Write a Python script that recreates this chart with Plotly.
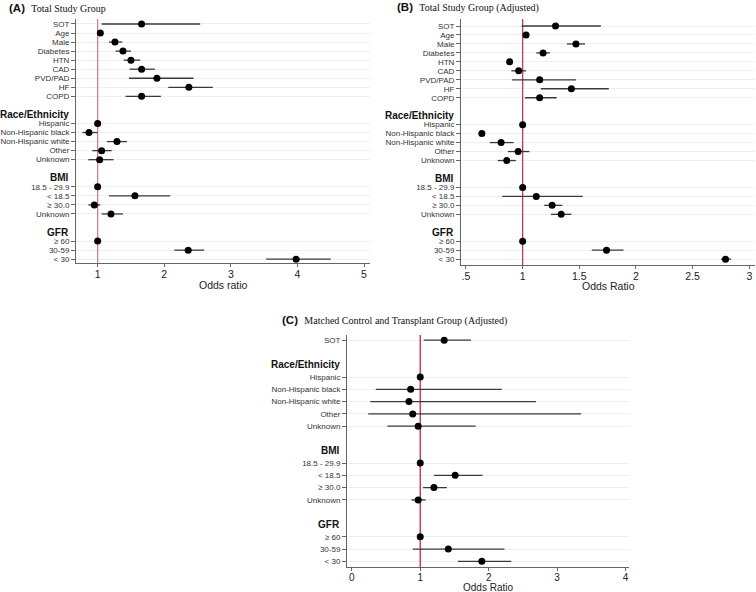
import plotly.graph_objects as go

# ---- data ----
labels_a = ["SOT", "Age", "Male", "Diabetes", "HTN", "CAD", "PVD/PAD", "HF", "COPD"]
race_labels = ["Hispanic", "Non-Hispanic black", "Non-Hispanic white", "Other", "Unknown"]
bmi_labels = ["18.5 - 29.9", "< 18.5", "≥ 30.0", "Unknown"]
gfr_labels = ["≥ 60", "30-59", "< 30"]

# panel A: Total Study Group
or_a = [1.66, 1.04, 1.26, 1.38, 1.50, 1.66, 1.89, 2.37, 1.66,
        1.00, 0.87, 1.29, 1.06, 1.03,
        1.00, 1.56, 0.95, 1.20,
        1.00, 2.36, 3.98]
lo_a = [1.06, 1.03, 1.17, 1.27, 1.39, 1.48, 1.47, 2.06, 1.42,
        1.00, 0.77, 1.14, 0.92, 0.86,
        1.00, 1.17, 0.86, 1.06,
        1.00, 2.15, 3.53]
hi_a = [2.54, 1.05, 1.37, 1.50, 1.64, 1.86, 2.44, 2.73, 1.95,
        1.00, 1.00, 1.44, 1.21, 1.24,
        1.00, 2.09, 1.04, 1.38,
        1.00, 2.60, 4.50]

# panel B: Total Study Group (Adjusted)
or_b = [1.29, 1.03, 1.47, 1.18, 0.885, 0.965, 1.15, 1.43, 1.15,
        1.00, 0.64, 0.81, 0.96, 0.86,
        1.00, 1.12, 1.26, 1.34,
        1.00, 1.74, 2.79]
lo_b = [0.99, 1.02, 1.39, 1.12, 0.875, 0.90, 0.905, 1.16, 1.02,
        1.00, 0.635, 0.71, 0.87, 0.78,
        1.00, 0.82, 1.19, 1.25,
        1.00, 1.61, 2.75]
hi_b = [1.69, 1.04, 1.55, 1.24, 0.895, 1.03, 1.47, 1.76, 1.30,
        1.00, 0.645, 0.92, 1.06, 0.94,
        1.00, 1.53, 1.35, 1.43,
        1.00, 1.89, 2.84]

# panel C: Matched Control and Transplant Group (Adjusted)
or_c = [1.35,
        1.00, 0.86, 0.835, 0.89, 0.97,
        1.00, 1.51, 1.20, 0.97,
        1.00, 1.41, 1.90]
lo_c = [1.05,
        1.00, 0.35, 0.27, 0.24, 0.52,
        1.00, 1.20, 1.04, 0.87,
        1.00, 0.89, 1.55]
hi_c = [1.74,
        1.00, 2.19, 2.69, 3.35, 1.81,
        1.00, 1.91, 1.39, 1.08,
        1.00, 2.23, 2.33]

W, H = 756, 592
SERIF = "Liberation Serif, Times New Roman, serif"


def build_rows(first):
    """Row index for every label; a blank row then a header row before each group."""
    groups = [(None, first), ("Race/Ethnicity", race_labels),
              ("BMI", bmi_labels), ("GFR", gfr_labels)]
    rows, names, headers = [], [], []
    r = 0
    for head, labs in groups:
        if head is not None:
            r += 1
            headers.append((head, r))
            r += 1
        for lab in labs:
            rows.append(r)
            names.append(lab)
            r += 1
    return rows, names, headers


def px_x(p):
    return p / W


def px_y(p):
    return 1 - p / H


fig = go.Figure()

panels = [
    dict(n="", first=labels_a, orv=or_a, lo=lo_a, hi=hi_a,
         xdom=[76, 370], ydom=[263, 19], yrng=[26.42, -0.55],
         xrng=[0.675, 5.09], tickvals=[1, 2, 3, 4, 5], ticktext=["1", "2", "3", "4", "5"],
         xtitle="Odds ratio", xtitle_y=285, ref="#cc7f9f", title_x=7, title_y=8,
         tag="(A)", title="Total Study Group", xfont=10.5),
    dict(n="2", first=labels_a, orv=or_b, lo=lo_b, hi=hi_b,
         xdom=[461, 755], ydom=[265, 19], yrng=[26.65, -0.78],
         xrng=[0.456, 3.05], tickvals=[0.5, 1, 1.5, 2, 2.5, 3],
         ticktext=[".5", "1", "1.5", "2", "2.5", "3"],
         xtitle="Odds Ratio", xtitle_y=286, ref="#b23a74", title_x=395, title_y=8,
         tag="(B)", title="Total Study Group (Adjusted)", xfont=10.5),
    dict(n="3", first=["SOT"], orv=or_c, lo=lo_c, hi=hi_c,
         xdom=[347, 629], ydom=[567, 335], yrng=[18.46, -0.42],
         xrng=[-0.07, 4.05], tickvals=[0, 1, 2, 3, 4], ticktext=["0", "1", "2", "3", "4"],
         xtitle="Odds Ratio", xtitle_y=587.5, ref="#c2244f", title_x=280, title_y=320,
         tag="(C)", title="Matched Control and Transplant Group (Adjusted)", xfont=10),
]

layout = dict(width=W, height=H, margin=dict(l=0, r=0, t=0, b=0),
              paper_bgcolor="white", plot_bgcolor="white", showlegend=False,
              font=dict(family="Liberation Sans, Arial, sans-serif", color="#222"))
annotations = []

for p in panels:
    rows, names, headers = build_rows(p["first"])
    xa, ya = "x" + p["n"], "y" + p["n"]
    plus = [h - o for h, o in zip(p["hi"], p["orv"])]
    minus = [o - l for o, l in zip(p["orv"], p["lo"])]
    # reference line OR = 1 (drawn as a trace so it sits above the gridlines)
    fig.add_trace(go.Scatter(
        x=[1, 1], y=p["yrng"], mode="lines", xaxis=xa, yaxis=ya,
        line=dict(color=p["ref"], width=1.3), hoverinfo="skip",
    ))
    fig.add_trace(go.Scatter(
        x=p["orv"], y=rows, mode="markers", xaxis=xa, yaxis=ya,
        marker=dict(color="black", size=7),
        error_x=dict(type="data", symmetric=False, array=plus, arrayminus=minus,
                     width=0, thickness=1.3, color="#3a3a3a"),
        hovertext=names,
    ))
    layout["xaxis" + p["n"]] = dict(
        domain=[px_x(p["xdom"][0]), px_x(p["xdom"][1])], anchor=ya, range=p["xrng"],
        tickvals=p["tickvals"], ticktext=p["ticktext"], automargin=False,
        showgrid=False, zeroline=False, showline=True, linecolor="#666", linewidth=1,
        ticks="outside", ticklen=3, tickcolor="#666", ticklabelstandoff=-2,
        tickfont=dict(size=p["xfont"], color="#222"),
    )
    layout["yaxis" + p["n"]] = dict(
        domain=[px_y(p["ydom"][0]), px_y(p["ydom"][1])], anchor=xa, range=p["yrng"],
        tickvals=rows, ticktext=names, automargin=False,
        showgrid=True, gridcolor="#efefef", gridwidth=1, zeroline=False,
        showline=True, linecolor="#666", linewidth=1,
        ticks="outside", ticklen=4, tickcolor="#666",
        tickfont=dict(size=8, color="#333"),
    )
    for head, r in headers:
        annotations.append(dict(
            text="<b>%s</b>" % head, x=0, y=r, xref=xa + " domain", yref=ya,
            xanchor="right", yanchor="middle", xshift=-5, showarrow=False,
            font=dict(size=10, color="#111"),
        ))
    # x axis title
    annotations.append(dict(
        text=p["xtitle"], x=px_x(sum(p["xdom"]) / 2), y=px_y(p["xtitle_y"]),
        xref="paper", yref="paper", xanchor="center", yanchor="middle",
        showarrow=False, font=dict(size=p["xfont"], color="#222"),
    ))
    annotations.append(dict(
        text="<b>%s</b>  <span style='font-family:%s;font-size:10px'>%s</span>"
             % (p["tag"], SERIF, p["title"]),
        x=px_x(p["title_x"]), y=px_y(p["title_y"]), xref="paper", yref="paper",
        xanchor="left", yanchor="middle", showarrow=False,
        font=dict(size=11.5, color="#111"),
    ))

layout["annotations"] = annotations
fig.update_layout(**layout)

# the page has a default 8px body margin; drop it so the figure sits at 0,0
fig.write_html("out.html", config={"displayModeBar": False},
               post_script="document.body.style.margin='0';")
